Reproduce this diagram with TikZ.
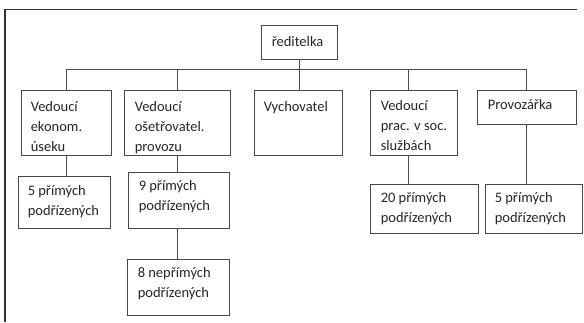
\documentclass[tikz,border=0pt]{standalone}
\usepackage{fontspec}
\setmainfont{Carlito}
\begin{document}
\begin{tikzpicture}[x=1pt,y=-1pt,
  box/.style={draw=black!72,line width=0.9pt,inner sep=0pt,fill=white},
  lbl/.style={anchor=base west,inner sep=0pt,align=left,font=\fontsize{14.5}{20}\selectfont,text=black!85},
  conn/.style={draw=black!70,line width=0.9pt}]
\useasboundingbox (0,0) rectangle (584,322);
\draw[line width=1.3pt,black!80] (5,322) -- (5,9.5) -- (577,9.5);
% boxes
\node[box,minimum width=76,minimum height=34] (dir) at (299,42) {};
\node[box,minimum width=90,minimum height=65] (b1) at (66,122.5) {};
\node[box,minimum width=106,minimum height=65] (b2) at (177,122.5) {};
\node[box,minimum width=88,minimum height=65] (b3) at (298,122.5) {};
\node[box,minimum width=87,minimum height=65] (b4) at (413.5,122.5) {};
\node[box,minimum width=99,minimum height=34] (b5) at (526.5,107) {};
\node[box,minimum width=92,minimum height=52] (c1) at (64,202) {};
\node[box,minimum width=101,minimum height=56] (c2) at (178.5,200) {};
\node[box,minimum width=102,minimum height=56] (c3) at (178,287) {};
\node[box,minimum width=108,minimum height=49] (c4) at (424,208.5) {};
\node[box,minimum width=97,minimum height=49] (c5) at (533.5,208.5) {};
% labels (anchor = baseline of the last line)
\node[lbl] (tdir) at ([shift={(11,22)}]dir.north west) {ředitelka};
\node[lbl] (tb1) at ([shift={(10,62)}]b1.north west) {Vedoucí\\ekonom.\\úseku};
\node[lbl] (tb3) at ([shift={(10,22)}]b3.north west) {Vychovatel};
\node[lbl] (tb4) at ([shift={(11,61)}]b4.north west) {Vedoucí\\prac. v soc.\\službách};
\node[lbl] (tb5) at ([shift={(11,20)}]b5.north west) {Provozářka};
\node[lbl] (tc1) at ([shift={(10,40)}]c1.north west) {5 přímých\\podřízených};
\node[lbl] (tc2) at ([shift={(11,39)}]c2.north west) {9 přímých\\podřízených};
\node[lbl] (tc3) at ([shift={(11,39)}]c3.north west) {8 nepřímých\\podřízených};
\node[lbl] (tc4) at ([shift={(11,39)}]c4.north west) {20 přímých\\podřízených};
\node[lbl] (tc5) at ([shift={(10,39)}]c5.north west) {5 přímých\\podřízených};
% clipped label in b2
\begin{scope}
\clip (b2.north west) rectangle (b2.south east);
\node[lbl] (tb2) at ([shift={(11,62)}]b2.north west) {Vedoucí\\ošetřovatel.\\provozu};
\end{scope}
% connectors
\coordinate (bus) at (0,69);
\coordinate (k4) at (408,0);
\draw[conn] (dir.south) -- (dir.south |- b3.north);
\draw[conn] (b1.north |- bus) -- (b5.north |- bus);
\draw[conn] (b1.north) -- (b1.north |- bus);
\draw[conn] (b2.north) -- (b2.north |- bus);
\draw[conn] (k4 |- b4.north) -- (k4 |- bus);
\draw[conn] (b5.north) -- (b5.north |- bus);
\draw[conn] (b1.south) -- (b1.south |- c1.north);
\draw[conn] (b2.south) -- (b2.south |- c2.north);
\draw[conn] (c2.south -| b2.south) -- (b2.south |- c3.north);
\draw[conn] (k4 |- b4.south) -- (k4 |- c4.north);
\draw[conn] (b5.south) -- (b5.south |- c5.north);
\end{tikzpicture}
\end{document}
